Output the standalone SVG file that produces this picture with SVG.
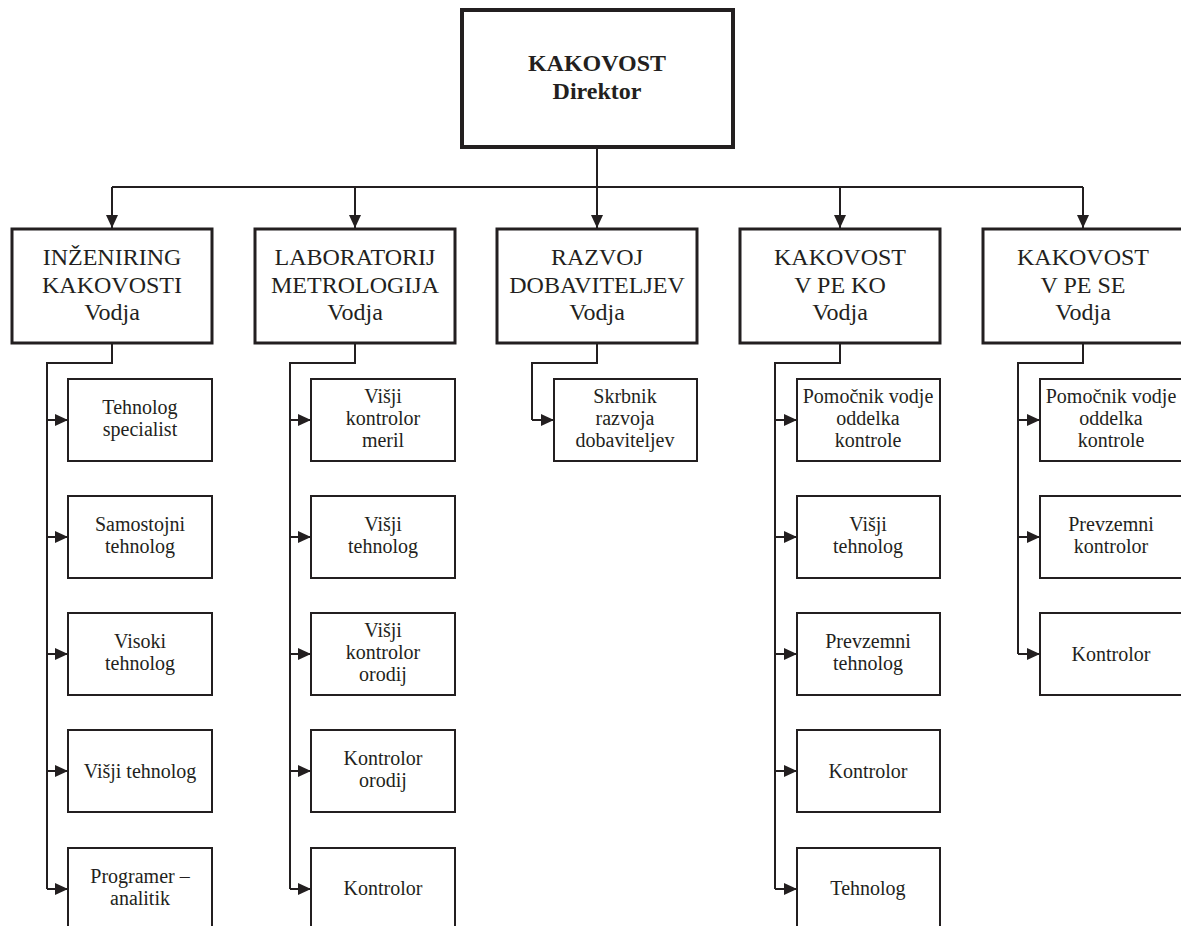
<svg xmlns="http://www.w3.org/2000/svg" width="1181" height="926" viewBox="0 0 1181 926" font-family="'Liberation Serif', 'Times New Roman', serif">
  <defs>
    <style>
      .bg { fill: #ffffff; }
      .top { fill: #ffffff; stroke: #231f20; stroke-width: 4; }
      .head { fill: #ffffff; stroke: #231f20; stroke-width: 3; }
      .box { fill: #ffffff; stroke: #231f20; stroke-width: 2; }
      .wire { fill: none; stroke: #231f20; stroke-width: 2; }
      text { font-family: 'Liberation Serif', 'Times New Roman', serif; fill: #231f20; text-anchor: middle; }
      .t-top { font-size: 24px; font-weight: bold; }
      .t-head { font-size: 24px; }
      .t-box { font-size: 20px; }
    </style>
    <marker id="arrow" markerUnits="userSpaceOnUse" markerWidth="14" markerHeight="12" refX="13" refY="6" orient="auto">
      <path d="M0,0 L13,6 L0,12 z" fill="#231f20"/>
    </marker>
  </defs>

  <rect class="bg" x="0" y="0" width="1181" height="926"/>

  <!-- connectors -->
  <g id="connectors">
    <!-- director to department heads -->
    <path class="wire" d="M597,147 V187"/>
    <path class="wire" d="M112,187 H1083"/>
    <line class="wire" x1="112" y1="187" x2="112" y2="228" marker-end="url(#arrow)"/>
    <line class="wire" x1="355" y1="187" x2="355" y2="228" marker-end="url(#arrow)"/>
    <line class="wire" x1="597" y1="187" x2="597" y2="228" marker-end="url(#arrow)"/>
    <line class="wire" x1="840" y1="187" x2="840" y2="228" marker-end="url(#arrow)"/>
    <line class="wire" x1="1083" y1="187" x2="1083" y2="228" marker-end="url(#arrow)"/>

    <!-- column 1 -->
    <path class="wire" d="M112,343 V363 H47 V889"/>
    <line class="wire" x1="47" y1="420" x2="68" y2="420" marker-end="url(#arrow)"/>
    <line class="wire" x1="47" y1="537" x2="68" y2="537" marker-end="url(#arrow)"/>
    <line class="wire" x1="47" y1="654" x2="68" y2="654" marker-end="url(#arrow)"/>
    <line class="wire" x1="47" y1="771" x2="68" y2="771" marker-end="url(#arrow)"/>
    <line class="wire" x1="47" y1="889" x2="68" y2="889" marker-end="url(#arrow)"/>

    <!-- column 2 -->
    <path class="wire" d="M355,343 V363 H290 V889"/>
    <line class="wire" x1="290" y1="420" x2="311" y2="420" marker-end="url(#arrow)"/>
    <line class="wire" x1="290" y1="537" x2="311" y2="537" marker-end="url(#arrow)"/>
    <line class="wire" x1="290" y1="654" x2="311" y2="654" marker-end="url(#arrow)"/>
    <line class="wire" x1="290" y1="771" x2="311" y2="771" marker-end="url(#arrow)"/>
    <line class="wire" x1="290" y1="889" x2="311" y2="889" marker-end="url(#arrow)"/>

    <!-- column 3 -->
    <path class="wire" d="M597,343 V363 H532 V420"/>
    <line class="wire" x1="532" y1="420" x2="554" y2="420" marker-end="url(#arrow)"/>

    <!-- column 4 -->
    <path class="wire" d="M840,343 V363 H775 V889"/>
    <line class="wire" x1="775" y1="420" x2="797" y2="420" marker-end="url(#arrow)"/>
    <line class="wire" x1="775" y1="537" x2="797" y2="537" marker-end="url(#arrow)"/>
    <line class="wire" x1="775" y1="654" x2="797" y2="654" marker-end="url(#arrow)"/>
    <line class="wire" x1="775" y1="771" x2="797" y2="771" marker-end="url(#arrow)"/>
    <line class="wire" x1="775" y1="889" x2="797" y2="889" marker-end="url(#arrow)"/>

    <!-- column 5 -->
    <path class="wire" d="M1083,343 V363 H1018 V654"/>
    <line class="wire" x1="1018" y1="420" x2="1040" y2="420" marker-end="url(#arrow)"/>
    <line class="wire" x1="1018" y1="537" x2="1040" y2="537" marker-end="url(#arrow)"/>
    <line class="wire" x1="1018" y1="654" x2="1040" y2="654" marker-end="url(#arrow)"/>
  </g>

  <!-- director -->
  <g id="director">
    <rect class="top" x="462" y="10" width="271" height="137"/>
    <text class="t-top" x="597" y="71">KAKOVOST</text>
    <text class="t-top" x="597" y="99">Direktor</text>
  </g>

  <!-- department heads -->
  <g id="head-inzeniring">
    <rect class="head" x="12" y="229" width="200" height="114"/>
    <text class="t-head" x="112" y="265">INŽENIRING</text>
    <text class="t-head" x="112" y="293">KAKOVOSTI</text>
    <text class="t-head" x="112" y="320">Vodja</text>
  </g>
  <g id="head-laboratorij">
    <rect class="head" x="255" y="229" width="200" height="114"/>
    <text class="t-head" x="355" y="265">LABORATORIJ</text>
    <text class="t-head" x="355" y="293">METROLOGIJA</text>
    <text class="t-head" x="355" y="320">Vodja</text>
  </g>
  <g id="head-razvoj">
    <rect class="head" x="497" y="229" width="200" height="114"/>
    <text class="t-head" x="597" y="265">RAZVOJ</text>
    <text class="t-head" x="597" y="293">DOBAVITELJEV</text>
    <text class="t-head" x="597" y="320">Vodja</text>
  </g>
  <g id="head-pe-ko">
    <rect class="head" x="740" y="229" width="200" height="114"/>
    <text class="t-head" x="840" y="265">KAKOVOST</text>
    <text class="t-head" x="840" y="293">V PE KO</text>
    <text class="t-head" x="840" y="320">Vodja</text>
  </g>
  <g id="head-pe-se">
    <rect class="head" x="983" y="229" width="200" height="114"/>
    <text class="t-head" x="1083" y="265">KAKOVOST</text>
    <text class="t-head" x="1083" y="293">V PE SE</text>
    <text class="t-head" x="1083" y="320">Vodja</text>
  </g>

  <!-- column 1 staff -->
  <g id="c1-tehnolog-specialist">
    <rect class="box" x="68" y="379" width="144" height="82"/>
    <text class="t-box" x="140" y="414">Tehnolog</text>
    <text class="t-box" x="140" y="436">specialist</text>
  </g>
  <g id="c1-samostojni-tehnolog">
    <rect class="box" x="68" y="496" width="144" height="82"/>
    <text class="t-box" x="140" y="531">Samostojni</text>
    <text class="t-box" x="140" y="553">tehnolog</text>
  </g>
  <g id="c1-visoki-tehnolog">
    <rect class="box" x="68" y="613" width="144" height="82"/>
    <text class="t-box" x="140" y="648">Visoki</text>
    <text class="t-box" x="140" y="670">tehnolog</text>
  </g>
  <g id="c1-visji-tehnolog">
    <rect class="box" x="68" y="730" width="144" height="82"/>
    <text class="t-box" x="140" y="778">Višji tehnolog</text>
  </g>
  <g id="c1-programer">
    <rect class="box" x="68" y="848" width="144" height="82"/>
    <text class="t-box" x="140" y="883">Programer –</text>
    <text class="t-box" x="140" y="905">analitik</text>
  </g>

  <!-- column 2 staff -->
  <g id="c2-visji-kontrolor-meril">
    <rect class="box" x="311" y="379" width="144" height="82"/>
    <text class="t-box" x="383" y="403">Višji</text>
    <text class="t-box" x="383" y="425">kontrolor</text>
    <text class="t-box" x="383" y="447">meril</text>
  </g>
  <g id="c2-visji-tehnolog">
    <rect class="box" x="311" y="496" width="144" height="82"/>
    <text class="t-box" x="383" y="531">Višji</text>
    <text class="t-box" x="383" y="553">tehnolog</text>
  </g>
  <g id="c2-visji-kontrolor-orodij">
    <rect class="box" x="311" y="613" width="144" height="82"/>
    <text class="t-box" x="383" y="637">Višji</text>
    <text class="t-box" x="383" y="659">kontrolor</text>
    <text class="t-box" x="383" y="681">orodij</text>
  </g>
  <g id="c2-kontrolor-orodij">
    <rect class="box" x="311" y="730" width="144" height="82"/>
    <text class="t-box" x="383" y="765">Kontrolor</text>
    <text class="t-box" x="383" y="787">orodij</text>
  </g>
  <g id="c2-kontrolor">
    <rect class="box" x="311" y="848" width="144" height="82"/>
    <text class="t-box" x="383" y="895">Kontrolor</text>
  </g>

  <!-- column 3 staff -->
  <g id="c3-skrbnik">
    <rect class="box" x="554" y="379" width="143" height="82"/>
    <text class="t-box" x="625" y="403">Skrbnik</text>
    <text class="t-box" x="625" y="425">razvoja</text>
    <text class="t-box" x="625" y="447">dobaviteljev</text>
  </g>

  <!-- column 4 staff -->
  <g id="c4-pomocnik">
    <rect class="box" x="797" y="379" width="143" height="82"/>
    <text class="t-box" x="868" y="403">Pomočnik vodje</text>
    <text class="t-box" x="868" y="425">oddelka</text>
    <text class="t-box" x="868" y="447">kontrole</text>
  </g>
  <g id="c4-visji-tehnolog">
    <rect class="box" x="797" y="496" width="143" height="82"/>
    <text class="t-box" x="868" y="531">Višji</text>
    <text class="t-box" x="868" y="553">tehnolog</text>
  </g>
  <g id="c4-prevzemni-tehnolog">
    <rect class="box" x="797" y="613" width="143" height="82"/>
    <text class="t-box" x="868" y="648">Prevzemni</text>
    <text class="t-box" x="868" y="670">tehnolog</text>
  </g>
  <g id="c4-kontrolor">
    <rect class="box" x="797" y="730" width="143" height="82"/>
    <text class="t-box" x="868" y="778">Kontrolor</text>
  </g>
  <g id="c4-tehnolog">
    <rect class="box" x="797" y="848" width="143" height="82"/>
    <text class="t-box" x="868" y="895">Tehnolog</text>
  </g>

  <!-- column 5 staff -->
  <g id="c5-pomocnik">
    <rect class="box" x="1040" y="379" width="144" height="82"/>
    <text class="t-box" x="1111" y="403">Pomočnik vodje</text>
    <text class="t-box" x="1111" y="425">oddelka</text>
    <text class="t-box" x="1111" y="447">kontrole</text>
  </g>
  <g id="c5-prevzemni-kontrolor">
    <rect class="box" x="1040" y="496" width="144" height="82"/>
    <text class="t-box" x="1111" y="531">Prevzemni</text>
    <text class="t-box" x="1111" y="553">kontrolor</text>
  </g>
  <g id="c5-kontrolor">
    <rect class="box" x="1040" y="613" width="144" height="82"/>
    <text class="t-box" x="1111" y="661">Kontrolor</text>
  </g>
</svg>
